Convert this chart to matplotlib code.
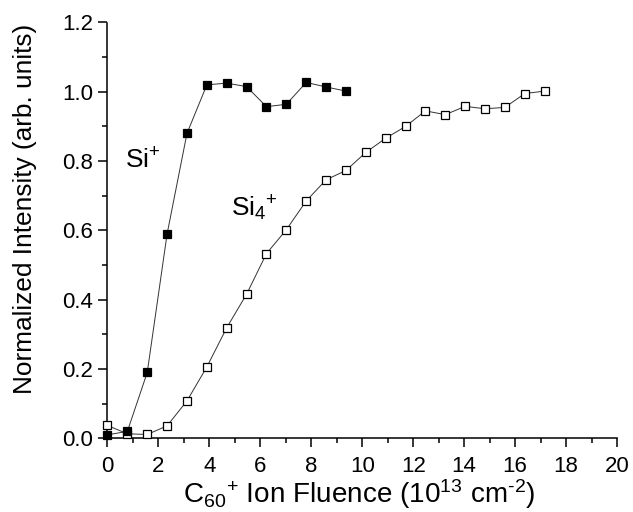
import matplotlib
matplotlib.use("Agg")
import matplotlib.pyplot as plt
from matplotlib.ticker import MultipleLocator, FormatStrFormatter

plt.rcParams['font.family'] = ['Liberation Sans', 'DejaVu Sans']
plt.rcParams['mathtext.fontset'] = 'custom'
plt.rcParams['mathtext.rm'] = 'Liberation Sans'
plt.rcParams['mathtext.it'] = 'Liberation Sans'
plt.rcParams['mathtext.bf'] = 'Liberation Sans'

# Data
si_fluence = [0.0, 0.78, 1.56, 2.34, 3.12, 3.90, 4.68, 5.46, 6.24, 7.02, 7.80, 8.58, 9.36]
si_intensity = [0.01, 0.02, 0.19, 0.59, 0.88, 1.02, 1.025, 1.015, 0.957, 0.964, 1.027, 1.014, 1.002]

si4_fluence = [0.0, 0.78, 1.56, 2.34, 3.12, 3.90, 4.68, 5.46, 6.24, 7.02, 7.80, 8.58,
               9.36, 10.14, 10.92, 11.70, 12.48, 13.26, 14.04, 14.82, 15.60, 16.38, 17.16]
si4_intensity = [0.037, 0.013, 0.011, 0.036, 0.108, 0.206, 0.319, 0.416, 0.533, 0.602, 0.685, 0.746,
                 0.773, 0.825, 0.866, 0.900, 0.945, 0.934, 0.958, 0.951, 0.955, 0.995, 1.002]

W, H = 633, 512
fig = plt.figure(figsize=(W / 100, H / 100), dpi=100)
ax = fig.add_axes([107.5 / W, 1 - 438.3 / H, 509.5 / W, 415.8 / H])

ax.plot(si4_fluence, si4_intensity, '-', color='#333333', lw=0.7,
        marker='s', ms=6.0, mfc='white', mec='black', mew=0.9, clip_on=False, zorder=3)
ax.plot(si_fluence, si_intensity, '-', color='#333333', lw=0.7,
        marker='s', ms=6.0, mfc='black', mec='black', mew=0.9, clip_on=False, zorder=4)

ax.set_xlim(0, 20)
ax.set_ylim(0, 1.2)
ax.xaxis.set_major_locator(MultipleLocator(2))
ax.xaxis.set_minor_locator(MultipleLocator(1))
ax.yaxis.set_major_locator(MultipleLocator(0.2))
ax.yaxis.set_minor_locator(MultipleLocator(0.1))
ax.yaxis.set_major_formatter(FormatStrFormatter('%.1f'))

for s in ['top', 'right']:
    ax.spines[s].set_visible(False)
for s in ['left', 'bottom']:
    ax.spines[s].set_linewidth(1.1)

ax.tick_params(which='major', direction='out', length=6.5, width=1.1, labelsize=16)
ax.tick_params(axis='x', which='major', pad=6.5)
ax.tick_params(axis='y', which='major', pad=4)
ax.tick_params(which='minor', direction='out', length=3.5, width=1.1)

xl = ax.set_xlabel(r'C$_{60}$$^{+}$ Ion Fluence (10$^{13}$ cm$^{\text{-2}}$)', fontsize=19, va='baseline')
ax.xaxis.set_label_coords((359.5 - 107.5) / 509.5, (438.3 - 503) / 415.8)
yl = ax.set_ylabel('Normalized Intensity (arb. units)', fontsize=18, va='center', ha='center')
ax.yaxis.set_label_coords((25.5 - 107.5) / 509.5, (438.3 - 209) / 415.8)

ax.text(0.70, 0.78, r'Si$^{+}$', fontsize=19, ha='left', va='baseline')
ax.text(4.86, 0.64, r'Si$_{4}$$^{+}$', fontsize=19, ha='left', va='baseline')

# scale label font sizes so their lengths match the reference
fig.canvas.draw()
r = fig.canvas.get_renderer()
bb = xl.get_window_extent(r)
xl.set_fontsize(xl.get_fontsize() * 352 / bb.width)
bb = yl.get_window_extent(r)
yl.set_fontsize(yl.get_fontsize() * 370 / bb.height)

fig.savefig('out.png', dpi=100)
